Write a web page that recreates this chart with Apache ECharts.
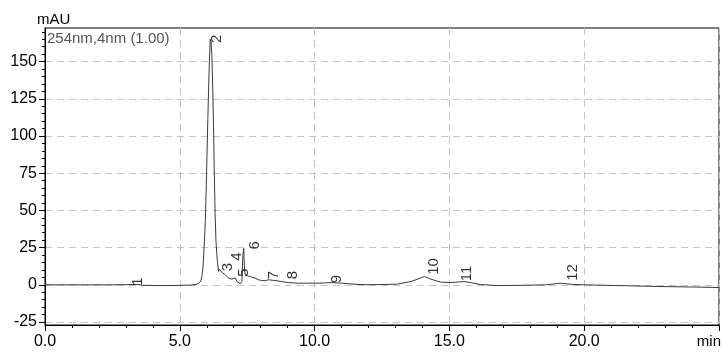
<!DOCTYPE html>
<html><head><meta charset="utf-8">
<script src="https://cdn.jsdelivr.net/npm/echarts@6/dist/echarts.min.js"></script>
<style>html,body{margin:0;padding:0;background:#fff}#c{width:722px;height:352px}</style>
</head><body><div id="c"></div>
<script>
// Chromatogram trace (min, mAU)
const times = [0.0,0.5,1.0,1.5,2.0,2.5,3.0,3.3,3.45,3.6,4.0,4.5,5.0,5.4,5.6,5.7,5.78,5.82,5.86,5.89,5.92,5.95,5.98,6.01,6.04,6.07,6.10,6.13,6.16,6.19,6.22,6.25,6.28,6.31,6.34,6.37,6.40,6.44,6.47,6.50,6.56,6.62,6.69,6.75,6.81,6.93,7.06,7.12,7.18,7.24,7.30,7.34,7.37,7.40,7.43,7.55,7.67,7.79,7.92,8.04,8.16,8.28,8.53,8.78,9.02,9.39,10.13,10.62,10.99,11.5,11.85,12.5,13.08,13.57,13.82,14.07,14.31,14.68,15.05,15.54,15.79,16.15,16.77,17.5,18.6,19.1,19.6,20.46,21.5,22.7,24.15,25.0];
const absorbance = [0,0,0,0,0,0,0.1,0.2,0.3,-0.3,-0.5,-0.5,-0.4,-0.2,0.3,0.8,2.5,5.6,12,21,32,44,65,88,111,133,152,165,163,154,133,108,75,48,30,21,15,9,10.5,9.5,8.5,7.5,6.7,5.5,4.5,3.8,4.6,2.2,1.1,0.7,2.2,20,24.5,10,6.7,5.8,5.2,4.5,3.4,2.9,2.7,3.4,2.9,2.2,1.5,1.1,1.1,1.5,1.1,0.4,0.1,0.2,0.5,2.2,3.8,5.6,3.8,1.8,1.5,2.2,1.5,0.2,-0.5,-0.4,0,1.1,0.2,-0.2,-0.6,-1.1,-1.5,-1.8];

// Peak labels
const peakNames = ['1','2','3','4','5','6','7','8','9','10','11','12'];
const peakTimes = [3.12,6.03,6.46,6.77,7.03,7.45,8.14,8.87,10.48,14.10,15.33,19.24];
const peakHeights = [-0.7,162.5,9.1,16.1,5.4,23.8,3.7,3.7,1.0,6.7,2.4,2.7];

// Axis ticks
const yTicks = [-25,0,25,50,75,100,125,150];
const yMinorTicks = [-25,-20,-15,-10,-5,0,5,10,15,20,25,30,35,40,45,50,55,60,65,70,75,80,85,90,95,100,105,110,115,120,125,130,135,140,145,150,155,160,165,170];

const FONT = '"Liberation Sans", Arial, sans-serif';
const chart = echarts.init(document.getElementById('c'), null, {renderer: 'canvas'});
const trace = times.map((t, i) => [t, absorbance[i]]);
const peaks = peakTimes.map((t, i) => ({value: [t, peakHeights[i]], name: peakNames[i]}));

chart.setOption({
  animation: false,
  backgroundColor: '#fff',
  grid: {left: 45, right: 1, top: 28, bottom: 27, show: true, borderColor: '#000', borderWidth: 1, containLabel: false},
  xAxis: {
    type: 'value', min: 0, max: 25, interval: 5,
    axisLine: {show: true, onZero: false, lineStyle: {color: '#000', width: 1}},
    axisTick: {show: true, length: 6, inside: false, lineStyle: {color: '#000'}},
    minorTick: {show: true, splitNumber: 5, length: 3, lineStyle: {color: '#000'}},
    axisLabel: {color: '#000', fontSize: 16, fontFamily: FONT, margin: 9,
      formatter: v => (v >= 25 ? '' : v.toFixed(1))},
    splitLine: {show: true, lineStyle: {color: '#c4c4c4', type: [7, 5], width: 1}}
  },
  yAxis: [{
    type: 'value', min: -27, max: 172.6,
    axisLine: {show: true, onZero: false, lineStyle: {color: '#000', width: 1}},
    axisTick: {show: true, length: 6, customValues: yTicks, lineStyle: {color: '#000'}},
    axisLabel: {color: '#000', fontSize: 16, fontFamily: FONT, margin: 8, customValues: yTicks},
    splitLine: {show: true, lineStyle: {color: '#c4c4c4', type: [7, 5], width: 1}}
  }, {
    type: 'value', min: -27, max: 172.6, position: 'left',
    axisLine: {show: false},
    axisTick: {show: true, length: 3, customValues: yMinorTicks, lineStyle: {color: '#000'}},
    axisLabel: {show: false},
    splitLine: {show: false}
  }],
  graphic: [
    {type: 'text', left: 37, top: 12, style: {text: 'mAU', font: '15px ' + FONT, fill: '#000'}},
    {type: 'text', left: 47, top: 31, style: {text: '254nm,4nm (1.00)', font: '15px ' + FONT, fill: '#555'}},
    {type: 'text', right: 1, top: 334, style: {text: 'min', font: '15px ' + FONT, fill: '#000'}}
  ],
  series: [{
    type: 'line', data: trace, showSymbol: false, symbol: 'none',
    lineStyle: {color: '#3a3a3a', width: 1}, z: 3
  }, {
    type: 'scatter', data: peaks, symbolSize: 0, z: 4,
    label: {show: true, formatter: p => p.name, position: 'inside', rotate: 90,
      align: 'left', verticalAlign: 'middle', offset: [0, 9],
      color: '#000', fontSize: 15, fontFamily: FONT}
  }]
});
</script>
</body></html>
